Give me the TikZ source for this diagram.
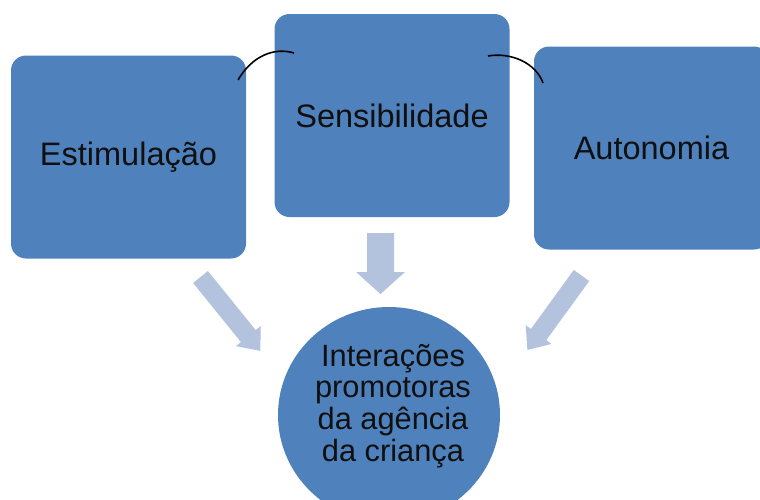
\documentclass[tikz,border=0pt]{standalone}
\usepackage{fontspec}
\setmainfont{Liberation Sans}
\usetikzlibrary{shapes.geometric}
\definecolor{boxblue}{HTML}{4F81BD}
\definecolor{arrowblue}{HTML}{B3C3DE}
\definecolor{txt}{HTML}{101010}
\tikzset{
  box/.style={fill=boxblue, rounded corners=15pt, minimum width=235pt, minimum height=203pt, inner sep=0pt, text=txt, font=\fontsize{32.5}{36}\selectfont},
  blob/.style={ellipse, fill=boxblue, minimum width=222pt, minimum height=216pt, inner sep=0pt},
  blobtext/.style={align=center, text=txt, font=\fontsize{30.8}{31.6}\selectfont},
  blockarrow/.style={fill=arrowblue},
  arc/.style={draw=black, line width=1.6pt}
}
\begin{document}
\begin{tikzpicture}[x=1pt,y=-1pt]
\useasboundingbox (0,0) rectangle (760,499);
\clip (0,0) rectangle (760,499);
% block arrows
\fill[blockarrow, shift={(200.5,277)}, rotate=-51]
  (0,-9.5) -- (76,-9.5) -- (76,-16) -- (95,0) -- (76,16) -- (76,9.5) -- (0,9.5) -- cycle;
\fill[blockarrow, shift={(380.5,233)}, rotate=-90]
  (0,-13.5) -- (39,-13.5) -- (39,-24.5) -- (61,0) -- (39,24.5) -- (39,13.5) -- (0,13.5) -- cycle;
\fill[blockarrow, shift={(581.5,275.5)}, rotate=-126]
  (0,-9.5) -- (73,-9.5) -- (73,-16) -- (92,0) -- (73,16) -- (73,9.5) -- (0,9.5) -- cycle;
% boxes
\node[box] (est) at (128.5,157) {Estimulação};
\node[box] (sen) at (392,115.5) {Sensibilidade};
\node[box] (aut) at (651.5,148) {Autonomia};
% circle
\node[blob] (int) at (389,415) {};
\node[blobtext] (intt) at (393,406) {Interações\\promotoras\\da agência\\da criança};
% arcs
\coordinate (a1s) at (238,80);
\coordinate (a1e) at (294,53);
\coordinate (a2s) at (488,56);
\coordinate (a2e) at (543,83);
\draw[arc] (a1s) .. controls (252,56) and (274,47) .. (a1e);
\draw[arc] (a2s) .. controls (511,52) and (536,63) .. (a2e);
\end{tikzpicture}
\end{document}
